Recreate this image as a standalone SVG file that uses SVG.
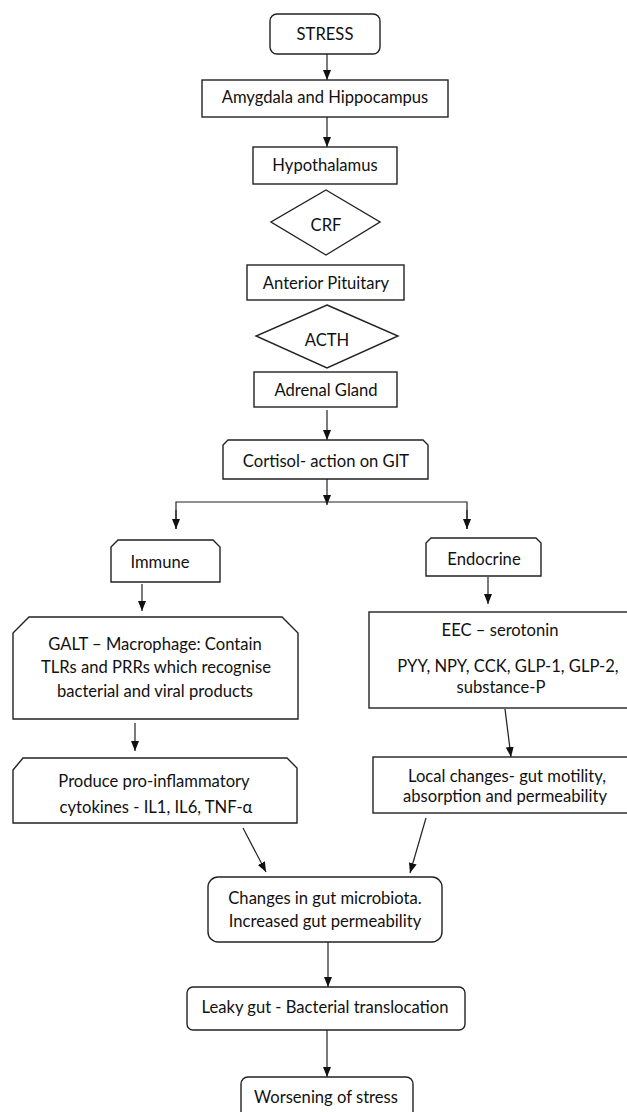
<svg xmlns="http://www.w3.org/2000/svg" width="627" height="1112" viewBox="0 0 627 1112">
<style>
.b{fill:#fff;stroke:#222;stroke-width:1.4}
.t{font-family:Lato,"Liberation Sans",sans-serif;font-size:16.6px;fill:#111;text-anchor:middle}
.c{fill:none;stroke:#222;stroke-width:1.2}
</style>
<defs>
<marker id="ah" markerUnits="userSpaceOnUse" markerWidth="10" markerHeight="10" viewBox="0 0 10 10" refX="10" refY="5" orient="auto">
<path d="M0,1 L10,5 L0,9 Z" fill="#111"/>
</marker>
</defs>
<rect width="627" height="1112" fill="#fff"/>
<g id="connectors">
<line class="c" x1="327" y1="54" x2="327" y2="80" marker-end="url(#ah)"/>
<line class="c" x1="327" y1="117" x2="327" y2="147" marker-end="url(#ah)"/>
<line class="c" x1="327" y1="410" x2="327" y2="440" marker-end="url(#ah)"/>
<line class="c" x1="327" y1="479" x2="327" y2="505" marker-end="url(#ah)"/>
<polyline class="c" points="176,529 176,502 467,502 467,529"/>
<line class="c" x1="176" y1="510" x2="176" y2="529" marker-end="url(#ah)"/>
<line class="c" x1="467" y1="510" x2="467" y2="529" marker-end="url(#ah)"/>
<line class="c" x1="142" y1="584" x2="142" y2="611" marker-end="url(#ah)"/>
<line class="c" x1="488" y1="577" x2="488" y2="604" marker-end="url(#ah)"/>
<line class="c" x1="135" y1="723" x2="135" y2="751" marker-end="url(#ah)"/>
<line class="c" x1="505" y1="709" x2="511" y2="757" marker-end="url(#ah)"/>
<line class="c" x1="243" y1="828" x2="266" y2="872" marker-end="url(#ah)"/>
<line class="c" x1="426" y1="818" x2="410" y2="873" marker-end="url(#ah)"/>
<line class="c" x1="328" y1="942" x2="328" y2="987" marker-end="url(#ah)"/>
<line class="c" x1="327" y1="1030" x2="327" y2="1077" marker-end="url(#ah)"/>
</g>
<g id="stress"><rect class="b" x="270" y="14" width="110" height="40" rx="7"/><text class="t" x="325" y="40">STRESS</text></g>
<g id="amygdala"><rect class="b" x="202" y="80" width="246" height="37"/><text class="t" x="325" y="103">Amygdala and Hippocampus</text></g>
<g id="hypothalamus"><rect class="b" x="253" y="147" width="144" height="37"/><text class="t" x="325" y="171">Hypothalamus</text></g>
<g id="crf"><polygon class="b" points="326,190 380,222 326,255 271,222"/><text class="t" x="326" y="231">CRF</text></g>
<g id="anterior-pituitary"><rect class="b" x="247" y="265" width="157" height="35"/><text class="t" x="326" y="289">Anterior Pituitary</text></g>
<g id="acth"><polygon class="b" points="327,305 398,336 327,368 256,336"/><text class="t" x="327" y="346">ACTH</text></g>
<g id="adrenal"><rect class="b" x="254" y="372" width="143" height="35"/><text class="t" x="326" y="396">Adrenal Gland</text></g>
<g id="cortisol"><polygon class="b" points="228,440 423,440 428,445 428,479 223,479 223,445"/><text class="t" x="326" y="467">Cortisol- action on GIT</text></g>
<g id="immune"><polygon class="b" points="118,540 213,540 220,547 220,582 111,582 111,547"/><text class="t" x="160" y="568">Immune</text></g>
<g id="endocrine"><polygon class="b" points="431,538 536,538 541,543 541,576 426,576 426,543"/><text class="t" x="484" y="565">Endocrine</text></g>
<g id="galt"><polygon class="b" points="29,617 282,617 298,633 298,719 13,719 13,633"/>
<text class="t" x="155" y="650">GALT – Macrophage: Contain</text>
<text class="t" x="156" y="673">TLRs and PRRs which recognise</text>
<text class="t" x="155" y="697">bacterial and viral products</text></g>
<g id="eec"><rect class="b" x="369" y="612" width="270" height="96"/>
<text class="t" x="500" y="636">EEC – serotonin</text>
<text class="t" x="508" y="672">PYY, NPY, CCK, GLP-1, GLP-2,</text>
<text class="t" x="501" y="693">substance-P</text></g>
<g id="produce"><polygon class="b" points="23,758 287,758 297,768 297,823 13,823 13,770"/>
<text class="t" x="154" y="787">Produce pro-inflammatory</text>
<text class="t" x="156" y="813">cytokines - IL1, IL6, TNF-α</text></g>
<g id="local"><rect class="b" x="373" y="757" width="270" height="56"/>
<text class="t" x="507" y="782">Local changes- gut motility,</text>
<text class="t" x="505" y="802">absorption and permeability</text></g>
<g id="changes"><rect class="b" x="208" y="877" width="234" height="65" rx="10"/>
<text class="t" x="325" y="904">Changes in gut microbiota.</text>
<text class="t" x="325" y="927">Increased gut permeability</text></g>
<g id="leaky"><rect class="b" x="187" y="987" width="278" height="43" rx="6"/><text class="t" x="325" y="1013">Leaky gut - Bacterial translocation</text></g>
<g id="worsening"><rect class="b" x="241" y="1077" width="172" height="50" rx="7"/><text class="t" x="326" y="1103">Worsening of stress</text></g>
</svg>
